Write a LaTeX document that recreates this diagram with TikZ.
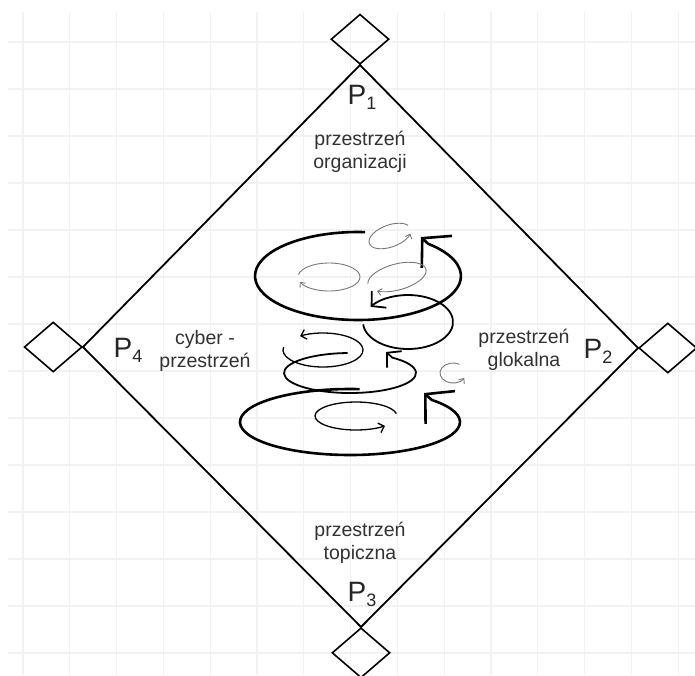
\documentclass[tikz,border=0pt]{standalone}
\usepackage{fontspec}
\setmainfont{Liberation Sans}
\usetikzlibrary{positioning,arrows.meta,calc,shapes.geometric}
\definecolor{inkgray}{RGB}{50,50,50}
\definecolor{gridgray}{RGB}{242,242,242}
\definecolor{pencil}{RGB}{120,120,120}
\newcommand{\vtx}[1]{P\raisebox{-5pt}{\fontsize{18}{18}\selectfont #1}}
% [style]{centre}{x radius}{y radius}{start}{end}{tilt}{tail}
\newcommand{\whorl}[8][]{\draw[#1,rotate around={#7:(#2)}] ($(#2)+(#5:#3 and #4)$)
  arc[start angle=#5,end angle=#6,x radius=#3,y radius=#4] #8;}
\tikzset{
  gridline/.style ={draw=gridgray, line width=1.3pt},
  sheet/.style    ={draw=black, line width=1.8pt},
  cornerbox/.style={diamond, draw=black, line width=1.6pt, minimum width=58pt,
                    minimum height=50pt, inner sep=0pt},
  area/.style     ={font=\fontsize{19.5}{23}\selectfont, text=inkgray, align=center, inner sep=0pt},
  vlabel/.style   ={font=\fontsize{28}{30}\selectfont, text=black!85, inner sep=0pt},
  bigwhorl/.style ={line width=2.6pt, -{Straight Barb[length=20pt,width=44pt]}},
  midwhorl/.style ={line width=1.8pt, -{Straight Barb[length=10pt,width=22pt]}},
  thinwhorl/.style={line width=1.3pt, -{Straight Barb[length=5pt,width=10pt]}},
  faintwhorl/.style={draw=pencil, line width=0.9pt, -{Straight Barb[length=4pt,width=7pt]}},
}
\begin{document}
\begin{tikzpicture}[x=1pt,y=-1pt]
\fill[white] (0,0) rectangle (695,675);
\useasboundingbox (0,0) rectangle (695,675);
% squared paper
\foreach \gx in {23,69.8,...,690} \draw[gridline] (\gx,12) -- (\gx,675);
\foreach \gy in {42,89,...,670} \draw[gridline] (8,\gy) -- (695,\gy);

% corners and the big diamond
\node[cornerbox,anchor=south] (ctop) at (360,65) {};
\node[cornerbox,anchor=west] (cright) at (638,348) {};
\node[cornerbox,anchor=north] (cbot) at (361,627) {};
\node[cornerbox,anchor=east] (cleft) at (83,347) {};
\draw[sheet] (ctop.south) -- (cright.west) -- (cbot.north) -- (cleft.east) -- cycle;

% labels
\node[vlabel] (ptop) at (362,97) {\vtx{1}};
\node[area] (ltop) at (360,152) {przestrzeń\\organizacji};
\node[vlabel] (pleft) at (128,350) {\vtx{4}};
\node[area] (lleft) at (205,351) {cyber -\\przestrzeń};
\node[vlabel] (pright) at (598,351) {\vtx{2}};
\node[area] (lright) at (524,350) {przestrzeń\\glokalna};
\node[area] (lbot) at (360,543) {przestrzeń\\topiczna};
\node[vlabel] (pbot) at (362,594) {\vtx{3}};

% whirls
\whorl[bigwhorl]{358,276}{103}{44}{274}{-47}{0}{-- (421,237)}
\whorl[faintwhorl]{390,236}{22}{11}{-20}{-335}{20}{}
\whorl[faintwhorl]{329,277}{31}{14}{-170}{160}{0}{}
\whorl[faintwhorl]{397,277}{30}{13}{-175}{140}{15}{}
\whorl[midwhorl]{408,322}{45}{27}{175}{-146}{0}{}
\whorl[thinwhorl]{323,350}{40}{17}{190}{-125}{0}{}
\whorl[midwhorl]{350,373}{66}{20}{268}{-50}{0}{-- (386,352)}
\whorl[faintwhorl]{453,373}{13}{10}{-60}{-330}{0}{}
\whorl[bigwhorl]{350,422}{110}{33}{275}{-42}{0}{-- (424,393)}
\whorl[thinwhorl]{356,416}{41}{14}{-10}{-315}{0}{}
\end{tikzpicture}
\end{document}
